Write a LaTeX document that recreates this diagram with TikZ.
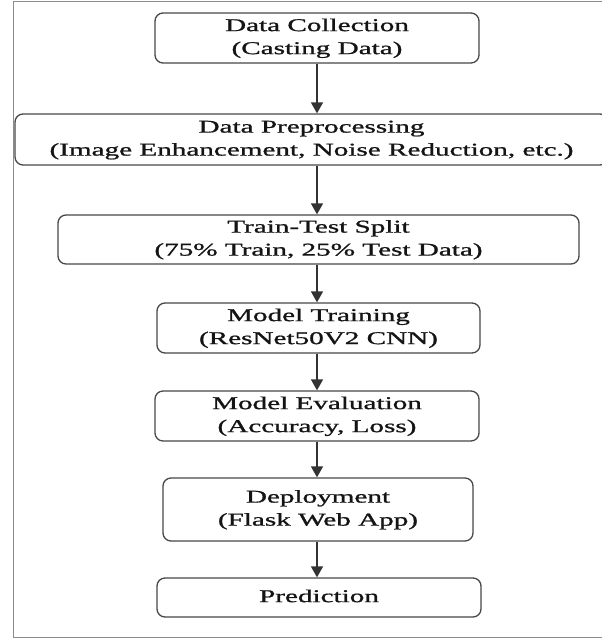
\documentclass[tikz,border=0pt]{standalone}
\usepackage{fontspec}
\setmainfont{Liberation Serif}[UprightFeatures={FakeBold=0.9}]
\usepackage{graphicx}
\usetikzlibrary{arrows.meta}
\newcommand{\boxtext}[1]{\scalebox{1.62}[1]{\begin{tabular}{@{}c@{}}#1\end{tabular}}}
\begin{document}
\begin{tikzpicture}[x=1pt,y=-1pt,
  stepbox/.style={draw=black!72, line width=1.3pt, rounded corners=8pt, inner sep=0pt,
    text=black!92, font=\fontsize{18}{23}\selectfont},
  arr/.style={draw=black!80, line width=1.4pt, -{Triangle[width=12pt,length=11pt]}},
  frameline/.style={draw=black!45, line width=1pt}]
\useasboundingbox (0,0) rectangle (602,638);
\draw[frameline] (602,1) -- (13.5,1) -- (13.5,637) -- (602,637);
\node[stepbox, minimum width=324pt, minimum height=50pt] (b1) at (317,38) {\boxtext{Data Collection\\(Casting Data)}};
\node[stepbox, minimum width=593pt, minimum height=51pt] (b2) at (311.5,139.5) {\boxtext{Data Preprocessing\\(Image Enhancement, Noise Reduction, etc.)}};
\node[stepbox, minimum width=521pt, minimum height=49pt] (b3) at (318.5,239.5) {\boxtext{Train-Test Split\\(75\% Train, 25\% Test Data)}};
\node[stepbox, minimum width=323pt, minimum height=50pt] (b4) at (318.5,328) {\boxtext{Model Training\\(ResNet50V2 CNN)}};
\node[stepbox, minimum width=324pt, minimum height=50pt] (b5) at (317,416) {\boxtext{Model Evaluation\\(Accuracy, Loss)}};
\node[stepbox, minimum width=310pt, minimum height=63pt] (b6) at (318,509.5) {\boxtext{Deployment\\(Flask Web App)}};
\node[stepbox, minimum width=324pt, minimum height=39pt] (b7) at (319,597.5) {\boxtext{Prediction}};
\draw[arr] (b1.south) -- (b1.south |- b2.north);
\draw[arr] (b1.south |- b2.south) -- (b1.south |- b3.north);
\draw[arr] (b1.south |- b3.south) -- (b1.south |- b4.north);
\draw[arr] (b1.south |- b4.south) -- (b1.south |- b5.north);
\draw[arr] (b5.south) -- (b5.south |- b6.north);
\draw[arr] (b5.south |- b6.south) -- (b5.south |- b7.north);
\end{tikzpicture}
\end{document}
